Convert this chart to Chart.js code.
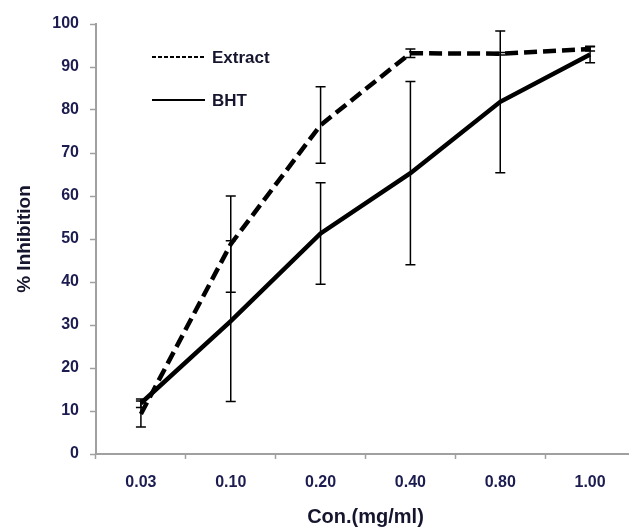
<!DOCTYPE html>
<html>
<head>
<meta charset="utf-8">
<script src="https://cdn.jsdelivr.net/npm/chart.js@4.4.1/dist/chart.umd.min.js"></script>
<style>
  html, body { margin: 0; padding: 0; background: #fff; overflow: hidden; }
  #wrap { width: 640px; height: 527px; }
</style>
</head>
<body>
<div id="wrap"><canvas id="chart" width="640" height="527"></canvas></div>
<script>
const concLabels  = ['0.03', '0.10', '0.20', '0.40', '0.80', '1.00'];
const extractVals = [9.3, 48.8, 76.5, 93.2, 93.1, 94.2];
const extractErr  = [3.0, 11.2, 8.9, 1.0, 0.3, 0.5];
const bhtVals     = [11.8, 30.9, 51.3, 65.3, 81.9, 92.9];
const bhtErr      = [1.0, 18.7, 11.8, 21.3, 16.5, 1.9];
const yTicks      = [0, 10, 20, 30, 40, 50, 60, 70, 80, 90, 100];

const FONT      = "'Liberation Sans', Arial, sans-serif";
const TICK_CLR  = '#1c1c50';
const TITLE_CLR = '#15152e';
const AXIS_CLR  = '#a0a0a0';

// vertical error bars with caps, drawn from each dataset's `errors` array
const errorBars = {
  id: 'errorBars',
  afterDatasetsDraw(chart) {
    const { ctx, scales: { x, y } } = chart;
    ctx.save();
    ctx.strokeStyle = '#000';
    ctx.lineWidth = 1.5;
    chart.data.datasets.forEach(ds => {
      if (!ds.errors) return;
      ds.data.forEach((v, i) => {
        const px  = x.getPixelForValue(i);
        const top = y.getPixelForValue(v + ds.errors[i]);
        const bot = y.getPixelForValue(v - ds.errors[i]);
        ctx.beginPath();
        ctx.moveTo(px, top); ctx.lineTo(px, bot);
        ctx.moveTo(px - 5, top); ctx.lineTo(px + 5, top);
        ctx.moveTo(px - 5, bot); ctx.lineTo(px + 5, bot);
        ctx.stroke();
      });
    });
    ctx.restore();
  },
};

// legend sitting inside the plot, top-left
const insideLegend = {
  id: 'insideLegend',
  afterDraw(chart) {
    const { ctx, chartArea: a } = chart;
    const rows = [
      { text: 'Extract', dash: [4, 2], dy: 33 },
      { text: 'BHT',     dash: [],     dy: 76 },
    ];
    ctx.save();
    ctx.font = `bold 17px ${FONT}`;
    ctx.fillStyle = TITLE_CLR;
    ctx.textBaseline = 'middle';
    rows.forEach(r => {
      const yy = a.top + r.dy;
      ctx.beginPath();
      ctx.setLineDash(r.dash);
      ctx.strokeStyle = '#000';
      ctx.lineWidth = 2;
      ctx.moveTo(a.left + 56, yy);
      ctx.lineTo(a.left + 109, yy);
      ctx.stroke();
      ctx.fillText(r.text, a.left + 116, yy + 1);
    });
    ctx.restore();
  },
};

new Chart(document.getElementById('chart'), {
  type: 'line',
  data: {
    labels: concLabels,
    datasets: [
      {
        label: 'Extract',
        data: extractVals,
        errors: extractErr,
        borderColor: '#000',
        borderWidth: 4.5,
        borderDash: [13, 6],
        pointRadius: 0,
        tension: 0,
      },
      {
        label: 'BHT',
        data: bhtVals,
        errors: bhtErr,
        borderColor: '#000',
        borderWidth: 4.5,
        pointRadius: 0,
        tension: 0,
      },
    ],
  },
  options: {
    responsive: false,
    animation: false,
    layout: { padding: { top: 24, right: 5, left: 0, bottom: 0 } },
    plugins: { legend: { display: false }, tooltip: { enabled: false } },
    scales: {
      x: {
        offset: true,
        grid: { offset: true, drawOnChartArea: false, tickLength: 5, tickColor: AXIS_CLR, tickWidth: 1.5 },
        border: { color: AXIS_CLR, width: 2 },
        ticks: { color: TICK_CLR, font: { family: FONT, size: 16, weight: 'bold' }, padding: 14, maxRotation: 0 },
        title: {
          display: true,
          text: 'Con.(mg/ml)',
          color: TITLE_CLR,
          font: { family: FONT, size: 20, weight: 'bold', lineHeight: 1 },
          padding: { top: 0, bottom: 0 },
        },
        afterFit: s => { s.height = 73; },
      },
      y: {
        min: 0,
        max: 100,
        afterBuildTicks: s => { s.ticks = yTicks.map(v => ({ value: v })); },
        grid: { drawOnChartArea: false, tickLength: 6, tickColor: AXIS_CLR, tickWidth: 1.5 },
        border: { color: AXIS_CLR, width: 2 },
        ticks: { color: TICK_CLR, font: { family: FONT, size: 16, weight: 'bold' }, padding: 11 },
        title: {
          display: true,
          text: '% Inhibition',
          color: TITLE_CLR,
          font: { family: FONT, size: 19, weight: 'bold', lineHeight: 1.2 },
          padding: { top: 13, bottom: 0 },
        },
        afterFit: s => { s.width = 96; },
      },
    },
  },
  plugins: [errorBars, insideLegend],
});
</script>
</body>
</html>
